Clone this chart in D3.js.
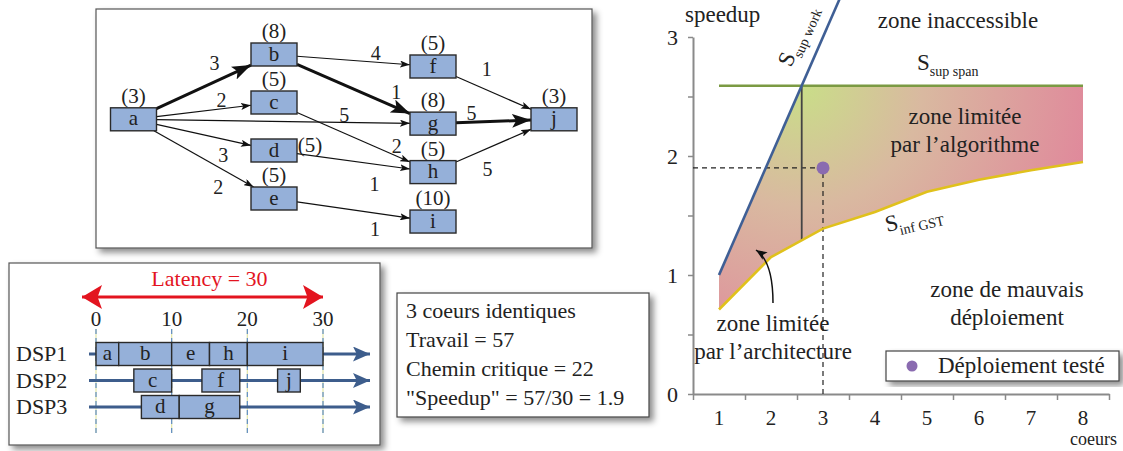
<!DOCTYPE html>
<html lang="fr">
<head>
<meta charset="UTF-8" />
<title>Graphe de tâches, ordonnancement et speedup</title>
<script src="https://d3js.org/d3.v7.min.js"></script>
<style>
  body { margin: 0; background: #fff; }
  svg { display: block; }
</style>
</head>
<body>
<svg width="1123" height="451"></svg>
<script>
// ---- graphe de tâches
const nodeNames = ['a', 'b', 'c', 'd', 'e', 'f', 'g', 'h', 'i', 'j'];
const nodeCosts = [3, 8, 5, 5, 5, 5, 8, 5, 10, 3];
const nodeLevels = [0, 1, 1, 1, 1, 2, 2, 2, 2, 3];
const nodeRanks = [1.35, 0, 1, 2, 3, 0.25, 1.44, 2.45, 3.48, 1.35];
const edgeSources = ['a', 'a', 'a', 'a', 'a', 'b', 'b', 'c', 'd', 'e', 'f', 'g', 'h'];
const edgeTargets = ['b', 'c', 'g', 'd', 'e', 'f', 'g', 'h', 'h', 'i', 'j', 'j', 'j'];
const edgeWeights = [3, 2, 5, 3, 2, 4, 1, 2, 1, 1, 1, 5, 5];
const criticalPath = ['a', 'b', 'g', 'j'];

// ---- ordonnancement sur 3 DSP
const processors = ['DSP1', 'DSP2', 'DSP3'];
const schedTasks = ['a', 'b', 'e', 'h', 'i', 'c', 'f', 'j', 'd', 'g'];
const schedProcs = ['DSP1', 'DSP1', 'DSP1', 'DSP1', 'DSP1', 'DSP2', 'DSP2', 'DSP2', 'DSP3', 'DSP3'];
const schedStart = [0, 3, 10, 15, 20, 5, 14, 24, 6, 11];
const schedEnd = [3, 10, 15, 20, 30, 10, 19, 27, 11, 19];
const timeTicks = [0, 10, 20, 30];
const latency = 30;

// ---- speedup
const cores = [1, 2, 3, 4, 5, 6, 7, 8];
const gstSpeedup = [0.71, 1.15, 1.39, 1.53, 1.70, 1.80, 1.88, 1.95];
const speedupTicks = [0, 0.5, 1, 1.5, 2, 2.5, 3];
const testedCores = 3;
const testedSpeedup = 1.9;

const work = d3.sum(nodeCosts);
const span = d3.sum(criticalPath, n => nodeCosts[nodeNames.indexOf(n)]);
const supSpan = work / span;

const FONT = '"Liberation Serif", "DejaVu Serif", serif';

const svg = d3.select('svg');
const defs = svg.append('defs');

const shadow = defs.append('filter').attr('id', 'shadow')
  .attr('x', '-10%').attr('y', '-10%').attr('width', '125%').attr('height', '130%');
shadow.append('feDropShadow').attr('dx', 4).attr('dy', 4)
  .attr('stdDeviation', 3).attr('flood-color', '#000').attr('flood-opacity', 0.45);

function marker(id, len, wid, color) {
  defs.append('marker').attr('id', id)
    .attr('markerUnits', 'userSpaceOnUse')
    .attr('markerWidth', len).attr('markerHeight', wid)
    .attr('refX', len).attr('refY', wid / 2).attr('orient', 'auto-start-reverse')
    .append('path')
    .attr('d', `M0,0 L${len},${wid / 2} L0,${wid} L${len * 0.22},${wid / 2} Z`)
    .attr('fill', color);
}
marker('arrThin', 10, 7, '#111');
marker('arrThick', 19, 14, '#111');
marker('arrRed', 20, 24, '#e3141f');
marker('arrBlue', 17, 15, '#3d5d8c');
marker('arrSmall', 11, 9, '#111');

const boxFill = '#95b0d9';

// =================== graphe ===================
svg.append('rect').attr('x', 96).attr('y', 9).attr('width', 496).attr('height', 239)
  .attr('fill', '#fff').attr('stroke', '#555').attr('stroke-width', 1.2)
  .attr('filter', 'url(#shadow)');

const gx = d3.scaleOrdinal().domain([0, 1, 2, 3]).range([133.5, 274, 433, 554]);
const gy = d3.scaleLinear().domain([0, 3]).range([54.5, 198.5]);
const nw = 46, nh = 23;

const nodes = nodeNames.map((n, i) => ({ name: n, cost: nodeCosts[i], cx: gx(nodeLevels[i]), cy: gy(nodeRanks[i]) }));
const byName = Object.fromEntries(nodes.map(n => [n.name, n]));

// label placement along each edge: fraction and signed normal offset
const labelT = [0.69, 0.70, 0.74, 0.74, 0.73, 0.69, 0.83, 0.85, 0.71, 0.71, 0.31, 0.21, 0.32];
const labelOff = [17, 9, 7, -15, -17, 9, 14, 9, -20, -16, 19, 9, -19];

const edges = edgeSources.map((s, i) => {
  const a = byName[s], b = byName[edgeTargets[i]];
  const dx = b.cx - a.cx, dy = b.cy - a.cy;
  const s0 = Math.min((nw / 2) / Math.abs(dx), (nh / 2) / Math.abs(dy || 1e-9));
  const p0 = [a.cx + dx * s0, a.cy + dy * s0];
  const p1 = [b.cx - dx * s0, b.cy - dy * s0];
  const crit = criticalPath.indexOf(edgeTargets[i]) >= 0
    && criticalPath.indexOf(edgeTargets[i]) === criticalPath.indexOf(s) + 1;
  return { p0, p1, w: edgeWeights[i], crit, t: labelT[i], off: labelOff[i] };
});

svg.append('g').selectAll('line').data(edges).join('line')
  .attr('x1', d => d.p0[0]).attr('y1', d => d.p0[1])
  .attr('x2', d => d.p1[0]).attr('y2', d => d.p1[1])
  .attr('stroke', '#111')
  .attr('stroke-width', d => d.crit ? 3 : 1.2)
  .attr('marker-end', d => d.crit ? 'url(#arrThick)' : 'url(#arrThin)');

const labelPos = d => {
  const L = Math.hypot(d.p1[0] - d.p0[0], d.p1[1] - d.p0[1]);
  const ux = (d.p1[0] - d.p0[0]) / L, uy = (d.p1[1] - d.p0[1]) / L;
  return [d.p0[0] + ux * d.t * L + uy * d.off, d.p0[1] + uy * d.t * L - ux * d.off];
};
svg.append('g').selectAll('text').data(edges).join('text')
  .attr('x', d => labelPos(d)[0]).attr('y', d => labelPos(d)[1])
  .attr('dy', '0.35em').attr('text-anchor', 'middle')
  .attr('font-size', 20).text(d => d.w);

const ng = svg.append('g').selectAll('g').data(nodes).join('g');
ng.append('rect')
  .attr('x', d => d.cx - nw / 2).attr('y', d => d.cy - nh / 2)
  .attr('width', nw).attr('height', nh)
  .attr('fill', boxFill).attr('stroke', '#2a2a2a').attr('stroke-width', 1.4);
ng.append('text')
  .attr('x', d => d.cx).attr('y', d => d.cy + 6)
  .attr('text-anchor', 'middle').attr('font-size', 21).text(d => d.name);
ng.append('text')
  .attr('x', d => d.name === 'd' ? d.cx + nw / 2 + 13 : d.cx)
  .attr('y', d => d.name === 'd' ? d.cy + 1 : d.cy - nh / 2 - 5)
  .attr('text-anchor', 'middle').attr('font-size', 21).text(d => `(${d.cost})`);

// =================== ordonnancement ===================
svg.append('rect').attr('x', 9).attr('y', 263).attr('width', 371).attr('height', 182)
  .attr('fill', '#fff').attr('stroke', '#555').attr('stroke-width', 1.2)
  .attr('filter', 'url(#shadow)');

const tx = d3.scaleLinear().domain([0, 30]).range([96, 323]);
const py = d3.scalePoint().domain(processors).range([354, 407]);

svg.append('text').attr('x', tx(latency / 2)).attr('y', 286)
  .attr('text-anchor', 'middle').attr('font-size', 22).style('fill', '#e3141f')
  .text(`Latency = ${latency}`);
svg.append('line').attr('x1', tx(0) - 14).attr('x2', tx(latency))
  .attr('y1', 297).attr('y2', 297).attr('stroke', '#e3141f').attr('stroke-width', 3)
  .attr('marker-start', 'url(#arrRed)').attr('marker-end', 'url(#arrRed)');

const tg = svg.append('g').selectAll('g').data(timeTicks).join('g');
tg.append('line').attr('x1', d => tx(d)).attr('x2', d => tx(d)).attr('y1', 329).attr('y2', 433)
  .attr('stroke', '#e2e6a8').attr('stroke-width', 1.2);
tg.append('line').attr('x1', d => tx(d)).attr('x2', d => tx(d)).attr('y1', 329).attr('y2', 433)
  .attr('stroke', '#5f8cc4').attr('stroke-width', 1.2).attr('stroke-dasharray', '5,4');
tg.append('text').attr('x', d => tx(d)).attr('y', 326).attr('text-anchor', 'middle')
  .attr('font-size', 21).text(d => d);

svg.append('g').selectAll('line').data(processors).join('line')
  .attr('x1', 89).attr('x2', 370).attr('y1', d => py(d)).attr('y2', d => py(d))
  .attr('stroke', '#3d5d8c').attr('stroke-width', 3).attr('marker-end', 'url(#arrBlue)');
svg.append('g').selectAll('text').data(processors).join('text')
  .attr('x', 16).attr('y', d => py(d) + 7).attr('font-size', 22).text(d => d);

const sched = schedTasks.map((t, i) => ({ t, p: schedProcs[i], s: schedStart[i], e: schedEnd[i] }));
const sg = svg.append('g').selectAll('g').data(sched).join('g');
sg.append('rect')
  .attr('x', d => tx(d.s)).attr('width', d => tx(d.e) - tx(d.s))
  .attr('y', d => py(d.p) - 11.5).attr('height', 23)
  .attr('fill', boxFill).attr('stroke', '#2a2a2a').attr('stroke-width', 1.4);
sg.append('text').attr('x', d => (tx(d.s) + tx(d.e)) / 2).attr('y', d => py(d.p) + 6)
  .attr('text-anchor', 'middle').attr('font-size', 21).text(d => d.t);

// =================== encadré ===================
svg.append('rect').attr('x', 397).attr('y', 293).attr('width', 252).attr('height', 124)
  .attr('fill', '#fff').attr('stroke', '#444').attr('stroke-width', 1.2)
  .attr('filter', 'url(#shadow)');
const infoLines = [
  `${processors.length} coeurs identiques`,
  `Travail = ${work}`,
  `Chemin critique = ${span}`,
  `"Speedup" = ${work}/${latency} = ${(work / latency).toFixed(1)}`
];
svg.append('g').selectAll('text').data(infoLines).join('text')
  .attr('x', 406).attr('y', (d, i) => 318 + i * 29).attr('font-size', 22).text(d => d);

// =================== speedup ===================
const x = d3.scaleLinear().domain([0.5, 8.5]).range([693, 1109]);
const y = d3.scaleLinear().domain([0, 3]).range([394, 37]);

const lowerAt = c => {
  const i = Math.max(0, Math.min(Math.floor(c) - 1, cores.length - 2));
  return gstSpeedup[i] + (c - cores[i]) * (gstSpeedup[i + 1] - gstSpeedup[i]);
};

const grad = defs.append('radialGradient').attr('id', 'zone')
  .attr('gradientUnits', 'userSpaceOnUse')
  .attr('cx', x(supSpan)).attr('cy', y(supSpan)).attr('r', 300);
grad.append('stop').attr('offset', 0).attr('stop-color', '#c9de88');
grad.append('stop').attr('offset', 0.4).attr('stop-color', '#d9b9a0');
grad.append('stop').attr('offset', 1).attr('stop-color', '#e0879b');

const areaPts = [...cores, supSpan].sort((a, b) => a - b);
svg.append('path').datum(areaPts)
  .attr('d', d3.area().x(c => x(c)).y0(c => y(lowerAt(c))).y1(c => y(Math.min(c, supSpan))))
  .attr('fill', 'url(#zone)');

// axes
const yAxis = svg.append('g').attr('transform', `translate(${x(0.5)},0)`)
  .call(d3.axisLeft(y).tickValues(speedupTicks).tickSize(5).tickSizeOuter(0).tickPadding(10)
    .tickFormat(d => Number.isInteger(d) ? d : ''));
const xAxis = svg.append('g').attr('transform', `translate(0,${y(0)})`)
  .call(d3.axisBottom(x).tickValues(d3.range(0.5, 9, 1)).tickSize(6).tickSizeOuter(0).tickFormat(''));
[yAxis, xAxis].forEach(a => {
  a.select('.domain').attr('stroke', '#8a8a8a').attr('stroke-width', 2);
  a.selectAll('.tick line').attr('stroke', '#8a8a8a').attr('stroke-width', 1.5);
  a.selectAll('.tick text').attr('font-size', 22).attr('dy', '0.35em');
});
svg.append('g').selectAll('text').data(cores).join('text')
  .attr('x', d => x(d)).attr('y', 425).attr('text-anchor', 'middle')
  .attr('font-size', 21).text(d => d);

svg.append('text').attr('x', 685).attr('y', 22).attr('font-size', 23).text('speedup');
svg.append('text').attr('x', 1117).attr('y', 445).attr('text-anchor', 'end')
  .attr('font-size', 18).text('coeurs');

// dashed guides to the tested deployment
svg.append('path')
  .attr('d', `M${x(0.5)},${y(testedSpeedup)} H${x(testedCores)} V${y(0)}`)
  .attr('fill', 'none').attr('stroke', '#222').attr('stroke-width', 1.2).attr('stroke-dasharray', '5,4');

// bounds
svg.append('line').attr('x1', x(supSpan)).attr('x2', x(supSpan))
  .attr('y1', y(supSpan)).attr('y2', y(lowerAt(supSpan)))
  .attr('stroke', '#444').attr('stroke-width', 1.8);
svg.append('path').datum(cores)
  .attr('d', d3.line().x(c => x(c)).y((c, i) => y(gstSpeedup[i])))
  .attr('fill', 'none').attr('stroke', '#e0c11c').attr('stroke-width', 2.6);
svg.append('line').attr('x1', x(1)).attr('x2', x(8))
  .attr('y1', y(supSpan)).attr('y2', y(supSpan))
  .attr('stroke', '#7b9a43').attr('stroke-width', 2.6);
svg.append('line').attr('x1', x(1)).attr('y1', y(1))
  .attr('x2', x(3.4)).attr('y2', y(3.4))
  .attr('stroke', '#3f5f95').attr('stroke-width', 2.6);

svg.append('circle').attr('cx', x(testedCores)).attr('cy', y(testedSpeedup)).attr('r', 6.5)
  .attr('fill', '#8a6bb0');

// labels
function sLabel(sx, sy, sub, angle) {
  const t = svg.append('text').attr('transform', `translate(${sx},${sy}) rotate(${angle})`);
  t.append('tspan').attr('font-size', 23).text('S');
  t.append('tspan').attr('font-size', 14).attr('dy', 6).text(sub);
}
const workAngle = Math.atan2(y(2) - y(1), x(2) - x(1)) * 180 / Math.PI;
sLabel(791, 68, 'sup work', workAngle);
sLabel(917, 70, 'sup span', 0);
sLabel(887, 232, 'inf GST', -13);

svg.append('text').attr('x', 958).attr('y', 28).attr('text-anchor', 'middle')
  .attr('font-size', 23).text('zone inaccessible');
const multi = (lines, cx, by) => svg.append('g').selectAll('text').data(lines).join('text')
  .attr('x', cx).attr('y', (d, i) => by + i * 28).attr('text-anchor', 'middle')
  .attr('font-size', 23).text(d => d);
multi(['zone limitée', 'par l’algorithme'], 965, 124);
multi(['zone limitée', 'par l’architecture'], 773, 331);
multi(['zone de mauvais', 'déploiement'], 1007, 297);

svg.append('path').attr('d', 'M773,303 C773,275 768,258 756,250')
  .attr('fill', 'none').attr('stroke', '#111').attr('stroke-width', 1.5)
  .attr('marker-end', 'url(#arrSmall)');

// legend
svg.append('rect').attr('x', 886).attr('y', 351).attr('width', 233).attr('height', 30)
  .attr('fill', '#fff').attr('stroke', '#444').attr('stroke-width', 1.2)
  .attr('filter', 'url(#shadow)');
svg.append('circle').attr('cx', 912).attr('cy', 366).attr('r', 5.5).attr('fill', '#8a6bb0');
svg.append('text').attr('x', 938).attr('y', 373).attr('font-size', 23).text('Déploiement testé');

svg.selectAll('text').attr('font-family', FONT).filter(function () {
  return !this.style.fill;
}).style('fill', '#222');
</script>
</body>
</html>
